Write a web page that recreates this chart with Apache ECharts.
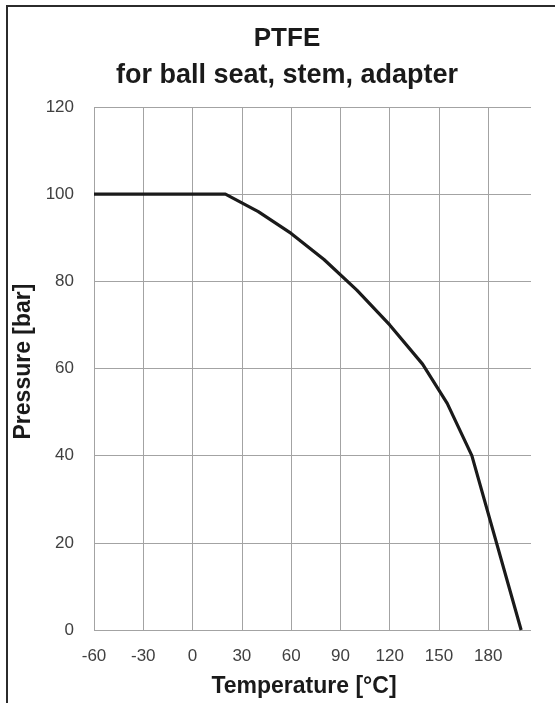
<!DOCTYPE html>
<html>
<head>
<meta charset="utf-8">
<style>
html, body { margin: 0; padding: 0; background: #fff; }
#chart { width: 555px; height: 703px; }
</style>
</head>
<body>
<div id="chart"></div>
<script src="https://cdn.jsdelivr.net/npm/echarts@6/dist/echarts.min.js"></script>
<script>
// data
var temps = [-60, 20, 40, 60, 80, 100, 120, 140, 155, 170, 200];
var pressures = [100, 100, 96, 91, 85, 78, 70, 61, 52, 40, 0];
var xMin = -60, xMax = 206, xStep = 30;
var yMin = 0, yMax = 120, yStep = 20;

var points = [];
for (var i = 0; i < temps.length; i++) {
    points.push([temps[i], pressures[i]]);
}

var font = "'Liberation Sans', Arial, sans-serif";
var gridColor = '#a3a3a3';

var myChart = echarts.init(document.getElementById('chart'));
var option = {
    animation: false,
    backgroundColor: '#fff',
    title: [
        {
            text: 'PTFE', left: 282, top: 21, textAlign: 'center',
            textStyle: { fontFamily: font, fontWeight: 'bold', fontSize: 26, color: '#1a1a1a' }
        },
        {
            text: 'for ball seat, stem, adapter', left: 282, top: 57, textAlign: 'center',
            textStyle: { fontFamily: font, fontWeight: 'bold', fontSize: 27, color: '#1a1a1a' }
        }
    ],
    graphic: [
        // frame, only left and top edges are visible in the crop
        { type: 'line', shape: { x1: 7, y1: 6, x2: 7, y2: 703 }, style: { stroke: '#2b2b2b', lineWidth: 2 } },
        { type: 'line', shape: { x1: 6, y1: 6, x2: 555, y2: 6 }, style: { stroke: '#2b2b2b', lineWidth: 2 } }
    ],
    grid: { left: 94, right: 24, top: 107, bottom: 73 },
    xAxis: {
        type: 'value', min: xMin, max: xMax, interval: xStep,
        name: 'Temperature [°C]', nameLocation: 'middle', nameGap: 45,
        nameTextStyle: { fontFamily: font, fontWeight: 'bold', fontSize: 23, color: '#1a1a1a', padding: [0, 17, 0, 0] },
        axisLine: { show: false },
        axisTick: { show: false },
        axisLabel: { margin: 18, fontFamily: font, fontSize: 17, color: '#404040', showMaxLabel: false },
        splitLine: { show: true, showMaxLine: false, lineStyle: { color: gridColor, width: 1 } }
    },
    yAxis: {
        type: 'value', min: yMin, max: yMax, interval: yStep,
        name: 'Pressure [bar]', nameLocation: 'middle', nameGap: 53,
        nameTextStyle: { fontFamily: font, fontWeight: 'bold', fontSize: 23, color: '#1a1a1a', padding: [0, 0, 0, 14] },
        axisLine: { show: false },
        axisTick: { show: false },
        axisLabel: { margin: 20, fontFamily: font, fontSize: 17, color: '#404040' },
        splitLine: { show: true, lineStyle: { color: gridColor, width: 1 } }
    },
    series: [
        {
            type: 'line',
            data: points,
            symbol: 'none',
            lineStyle: { color: '#1a1a1a', width: 3.2 }
        }
    ]
};
myChart.setOption(option);
</script>
</body>
</html>
